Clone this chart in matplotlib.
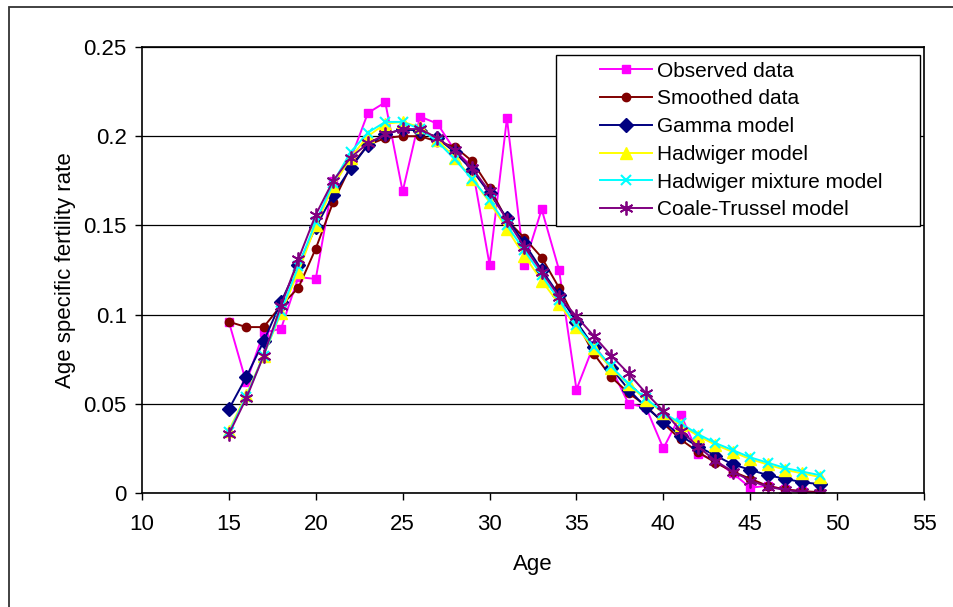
import matplotlib
matplotlib.use("Agg")
import matplotlib.pyplot as plt
import matplotlib.patches as mpatches

plt.rcParams['font.family'] = ['Liberation Sans', 'DejaVu Sans']

ages = list(range(15, 50))

observed = [0.096, 0.062, 0.090, 0.092, 0.121, 0.120, 0.175, 0.187, 0.213, 0.219,
            0.169, 0.211, 0.207, 0.192, 0.183, 0.128, 0.210, 0.128, 0.159, 0.125,
            0.058, 0.083, 0.070, 0.050, 0.048, 0.025, 0.044, 0.022, 0.018, 0.011,
            0.003, 0.004, 0.002, 0.001, 0.000]
smoothed = [0.096, 0.093, 0.093, 0.105, 0.115, 0.137, 0.163, 0.183, 0.195, 0.199,
            0.200, 0.200, 0.197, 0.194, 0.186, 0.171, 0.153, 0.143, 0.132, 0.115,
            0.096, 0.078, 0.065, 0.056, 0.049, 0.039, 0.030, 0.023, 0.017, 0.012,
            0.008, 0.004, 0.002, 0.001, 0.0005]
gamma = [0.047, 0.065, 0.085, 0.107, 0.128, 0.149, 0.167, 0.182, 0.195, 0.201,
         0.204, 0.203, 0.199, 0.191, 0.181, 0.168, 0.154, 0.140, 0.125, 0.111,
         0.096, 0.082, 0.070, 0.058, 0.048, 0.040, 0.032, 0.026, 0.021, 0.016,
         0.013, 0.010, 0.008, 0.006, 0.005]
hadwiger = [0.035, 0.055, 0.077, 0.101, 0.124, 0.150, 0.172, 0.188, 0.200, 0.207,
            0.208, 0.205, 0.198, 0.188, 0.176, 0.163, 0.148, 0.133, 0.119, 0.106,
            0.093, 0.081, 0.070, 0.061, 0.052, 0.045, 0.038, 0.032, 0.027, 0.023,
            0.019, 0.016, 0.013, 0.011, 0.009]
hadwiger_mix = [0.034, 0.054, 0.077, 0.102, 0.127, 0.152, 0.174, 0.191, 0.202, 0.208,
                0.208, 0.204, 0.197, 0.187, 0.176, 0.164, 0.150, 0.136, 0.122, 0.108,
                0.094, 0.082, 0.071, 0.061, 0.053, 0.045, 0.039, 0.033, 0.028, 0.024,
                0.020, 0.017, 0.014, 0.012, 0.010]
coale_trussel = [0.033, 0.053, 0.077, 0.105, 0.131, 0.156, 0.175, 0.188, 0.196, 0.201,
                 0.204, 0.204, 0.199, 0.192, 0.182, 0.169, 0.153, 0.138, 0.124, 0.110,
                 0.099, 0.088, 0.077, 0.067, 0.056, 0.046, 0.035, 0.026, 0.018, 0.012,
                 0.007, 0.0035, 0.0017, 0.0005, 0.0]

x_ticks = [10, 15, 20, 25, 30, 35, 40, 45, 50, 55]
y_ticks = [0, 0.05, 0.1, 0.15, 0.2, 0.25]
y_tick_labels = ["0", "0.05", "0.1", "0.15", "0.2", "0.25"]

fig = plt.figure(figsize=(9.54, 6.07), dpi=100)
ax = fig.add_axes([0.1488, 0.1878, 0.8198, 0.7348])

# outer chart border (runs off right and bottom like the original)
fig.patches.append(mpatches.Rectangle((9 / 954, -0.05), 1.2, 1 - 7 / 607 + 0.05,
                                      transform=fig.transFigure, fill=False,
                                      edgecolor='#333333', linewidth=1.3))

ax.plot(ages, observed, color='#FF00FF', marker='s', ms=6, lw=1.4, label='Observed data')
ax.plot(ages, smoothed, color='#800000', marker='o', ms=6, lw=1.4, label='Smoothed data')
ax.plot(ages, gamma, color='#000080', marker='D', ms=7.5, lw=1.4, label='Gamma model')
ax.plot(ages, hadwiger, color='#FFFF00', marker='^', ms=9, lw=1.4, label='Hadwiger model')
ax.plot(ages, hadwiger_mix, color='#00FFFF', marker='x', ms=7, mew=1.5, lw=1.4,
        label='Hadwiger mixture model')
ax.plot(ages, coale_trussel, color='#800080', marker=(6, 2, 0), ms=10, mew=1.3, lw=1.4,
        label='Coale-Trussel model')

ax.set_xlim(10, 55)
ax.set_ylim(0, 0.25)
ax.set_xticks(x_ticks)
ax.set_yticks(y_ticks)
ax.set_yticklabels(y_tick_labels)
ax.tick_params(direction='out', length=5, width=1, labelsize=16)
ax.tick_params(axis='x', pad=10)
ax.tick_params(axis='y', pad=6)
ax.yaxis.grid(True, color='black', linewidth=0.9)
ax.set_axisbelow(True)
for s in ax.spines.values():
    s.set_color('black')
    s.set_linewidth(1.2)

ax.set_xlabel('Age', fontsize=16, labelpad=14)
ax.set_ylabel('Age specific fertility rate', fontsize=16, labelpad=5)

# legend entries without frame, plus a hand-placed box like the Excel legend
leg = ax.legend(loc='upper left', bbox_to_anchor=(0.5857, 0.967), fontsize=15,
                frameon=False, borderpad=0, labelspacing=0.42,
                handlelength=2.5, handletextpad=0.25, borderaxespad=0)
ax.add_patch(mpatches.Rectangle((0.5294, 0.5987), 0.4655, 0.3833, transform=ax.transAxes,
                                facecolor='white', edgecolor='black', linewidth=1.0,
                                zorder=4.9))
leg.set_zorder(5)

fig.savefig('out.png', dpi=100)
